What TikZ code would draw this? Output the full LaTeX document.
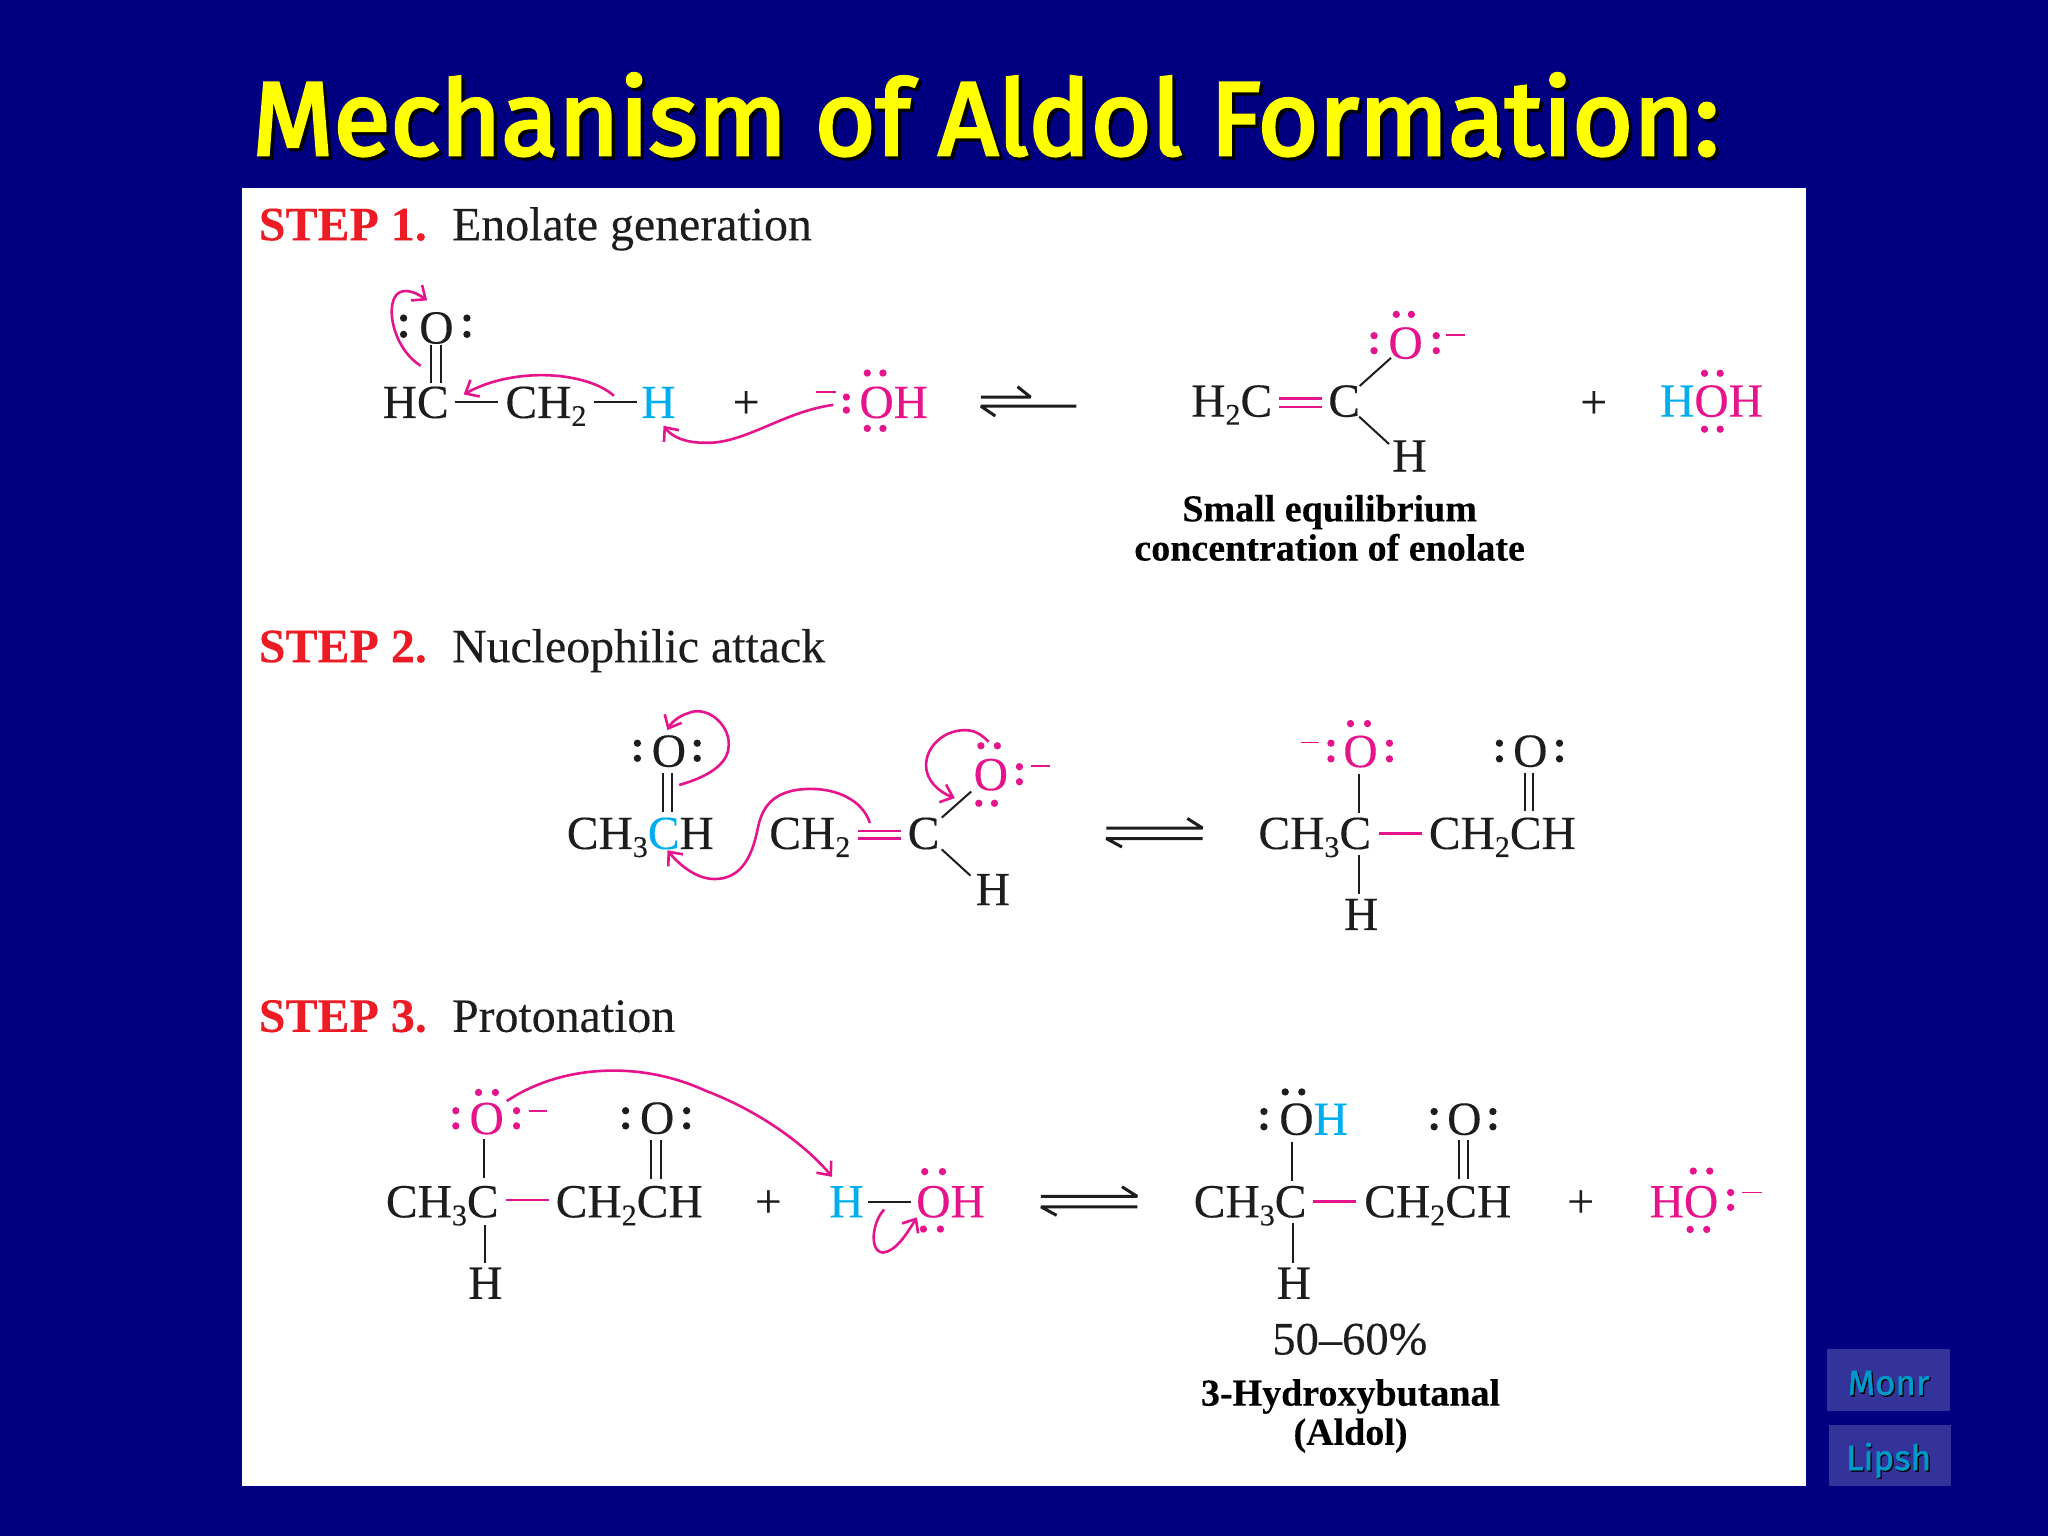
\documentclass[tikz,border=0pt]{standalone}
\usepackage{fontspec}
\usepackage{graphicx}
\usetikzlibrary{arrows.meta}
\setmainfont{Liberation Serif}[FakeBold=0.2]
\newfontfamily\comicf[FakeBold=3]{Fira Sans}
\newfontfamily\comicb[FakeBold=1.5]{Fira Sans}
\definecolor{navybg}{RGB}{0,0,128}
\definecolor{pinkc}{RGB}{230,20,140}
\definecolor{cyanc}{RGB}{0,174,239}
\definecolor{redc}{RGB}{237,28,36}
\definecolor{inkc}{RGB}{30,28,30}
\definecolor{btnc}{RGB}{51,51,153}
\definecolor{btnt}{RGB}{0,153,204}
\definecolor{ttl}{RGB}{255,255,0}
\newcommand\lowd[1]{\raisebox{-8pt}{\fontsize{30}{30}\selectfont #1}}
\newcommand\pk[1]{\textcolor{pinkc}{#1}}
\newcommand\cy[1]{\textcolor{cyanc}{#1}}
\newcommand\atomtxt[4]{\node[chem] (#1) at (#2,#3) {#4};}
\newcommand\dotsk[2]{\foreach \a/\b in {#2}{\fill[#1] (\a,\b) circle (2.8);}}
\tikzset{
  chem/.style={anchor=base west,inner sep=0pt,outer sep=0pt,yshift=-1.3pt,text=inkc,font=\fontsize{47.5}{47.5}\selectfont},
  steplab/.style={anchor=base west,inner sep=0pt,yshift=-1.3pt,text=redc,font=\bfseries\fontsize{48}{48}\selectfont},
  steptxt/.style={anchor=base west,inner sep=0pt,yshift=-1.3pt,text=inkc,font=\fontsize{47.8}{47.8}\selectfont},
  capt/.style={anchor=base,inner sep=0pt,yshift=-1.5pt,text=black,font=\bfseries\fontsize{38}{38}\selectfont},
  bond/.style={draw=inkc,line width=2pt},
  pbond/.style={draw=pinkc,line width=2.4pt},
  pmin/.style={draw=pinkc,line width=1.8pt},
  curved/.style={draw=pinkc,line width=2.6pt,-{Straight Barb[length=11pt,width=19pt,line width=2.6pt]}},
  eqa/.style={draw=inkc,line width=3pt,line join=bevel},
  ttltext/.style={anchor=base west,inner sep=0pt,font=\comicf\fontsize{100}{100}\selectfont},
  btn/.style={fill=btnc,draw=none},
  btntext/.style={anchor=base,inner sep=0pt,font=\comicb\fontsize{35}{35}\selectfont}
}
\begin{document}
\begin{tikzpicture}[x=1.30612pt,y=-1.30612pt]
\useasboundingbox (0,0) rectangle (1568,1176);
\fill[navybg] (0,0) rectangle (1568,1176);
\fill[white] (185,144) rectangle (1383,1138);
% title
\node[ttltext,text=black] (titleshadow) at (195.5,121) {\resizebox{1467pt}{!}{Mechanism of Aldol Formation:}};
\node[ttltext,text=ttl] (title) at (193,118.5) {\resizebox{1467pt}{!}{Mechanism of Aldol Formation:}};
% buttons
\fill[btn] (1399,1033) rectangle (1493,1080);
\fill[btn] (1400,1091) rectangle (1494,1138);
\node[btntext,text=black] (monrs) at (1447,1069) {Monr};
\node[btntext,text=btnt] (monr) at (1446,1068) {Monr};
\node[btntext,text=black] (lipshs) at (1447,1126.5) {Lipsh};
\node[btntext,text=btnt] (lipsh) at (1446,1125.5) {Lipsh};
% step labels
\node[steplab] (s1) at (198,183) {STEP 1.};
\node[steptxt] (s1t) at (346,183) {Enolate generation};
\node[steplab] (s2) at (198,506) {STEP 2.};
\node[steptxt] (s2t) at (346,506) {Nucleophilic attack};
\node[steplab] (s3) at (198,789) {STEP 3.};
\node[steptxt] (s3t) at (346,789) {Protonation};
%% ---------- step 1 left
\atomtxt{a1}{321}{262}{O}
\dotsk{inkc}{309/243.5,309/256,357.5/243.5,357.5/256}
\draw[bond] (329.7,264)--(329.7,293) (337.7,264)--(337.7,293);
\atomtxt{a2}{293}{319}{HC}
\draw[bond] (348,308)--(381,308);
\atomtxt{a3}{387}{319}{CH\lowd{2}}
\draw[bond] (455,308)--(488,308);
\atomtxt{a4}{491}{319}{\cy{H}}
\atomtxt{a5}{561}{319}{+}
\draw[pmin] (625,300)--(640,300);
\dotsk{pinkc}{648/304,648/314,664/285.6,676/285.6,664/328,676/328}
\atomtxt{a6}{658}{319}{\pk{OH}}
\draw[curved] (322,280) .. controls (303,268) and (296,240) .. (302,228) .. controls (306,220) and (316,222) .. (327,230);
\draw[curved] (470,303) .. controls (450,285) and (395,280) .. (355,302);
\draw[curved] (638,310) .. controls (600,315) and (570,340) .. (540,339) .. controls (525,339) and (515,335) .. (508,326);
% eq 1
\draw[eqa] (751,304)--(789,304)--(779,296);
\draw[eqa] (824,311)--(751,311)--(762,318.5);
%% ---------- step 1 right
\atomtxt{b1}{912}{318}{H\lowd{2}C}
\draw[pbond] (979,305)--(1012,305) (979,311.5)--(1012,311.5);
\atomtxt{b2}{1017}{318}{C}
\draw[bond] (1041,295.5)--(1065,274);
\draw[bond] (1040.6,319)--(1063.5,340);
\atomtxt{b3}{1066}{360}{H}
\atomtxt{b4}{1063}{273.6}{\pk{O}}
\dotsk{pinkc}{1052/257,1052/268.5,1099.6/257,1099.6/268.5,1069/240.7,1080.6/240.7}
\draw[pmin] (1107,256.6)--(1122,256.6);
\atomtxt{b5}{1210}{319}{+}
\atomtxt{b6}{1271}{318}{\cy{H}\pk{OH}}
\dotsk{pinkc}{1305/285.8,1317/285.8,1305/328.6,1317/328.6}
\node[capt] (c1) at (1018,398) {Small equilibrium};
\node[capt] (c2) at (1018,428) {concentration of enolate};
%% ---------- step 2 left
\atomtxt{d1}{499}{586}{O}
\dotsk{inkc}{488/569,488/580.6,533.8/569,533.8/580.6}
\draw[bond] (507.9,592)--(507.9,622) (514.4,592)--(514.4,622);
\atomtxt{d2}{434}{649}{CH\lowd{3}\cy{C}H}
\atomtxt{d3}{589}{649}{CH\lowd{2}}
\draw[pbond] (657,636)--(690,636) (657,642)--(690,642);
\atomtxt{d4}{695}{649}{C}
\draw[bond] (721,626)--(743.6,606);
\draw[bond] (721,650.3)--(743,670.4);
\atomtxt{d5}{747}{692}{H}
\atomtxt{d6}{745.5}{604}{\pk{O}}
\dotsk{pinkc}{751/571,763.6/571,749.4/615,761.4/615,780.5/587,780.5/598.5}
\draw[pmin] (789.6,586.5)--(804,586.5);
\draw[curved] (520,601) .. controls (548,593) and (558,582) .. (558,570) .. controls (558,553) and (540,540) .. (527,546) .. controls (520,548) and (514,553) .. (511,559);
\draw[curved] (666,630) .. controls (660,612) and (640,604) .. (621,604) .. controls (590,604) and (583,620) .. (580,635) .. controls (575,660) and (565,673) .. (547,673) .. controls (533,673) and (520,662) .. (511,651);
\draw[curved] (757,568) .. controls (750,561) and (745,559) .. (739,559) .. controls (722,559) and (709,572) .. (709,586) .. controls (709,597) and (718,606) .. (731,611);
% eq 2
\draw[eqa] (847,634)--(920.7,634)--(909,626.6);
\draw[eqa] (920.7,642)--(847,642)--(859,648.5);
%% ---------- step 2 right
\atomtxt{e1}{1028.5}{586.3}{\pk{O}}
\dotsk{pinkc}{1034/554,1047/554,1019/569,1019/581,1063.8/569,1063.8/581}
\draw[pmin] (996,568.4)--(1009.7,568.4);
\draw[bond] (1040.3,592.7)--(1040.3,622.8);
\atomtxt{e2}{963.5}{649}{CH\lowd{3}C}
\draw[pbond] (1056,638)--(1089,638);
\atomtxt{e3}{1094}{649}{CH\lowd{2}CH}
\draw[bond] (1040.3,654.7)--(1040.3,684.5);
\atomtxt{e4}{1029}{711}{H}
\atomtxt{e5}{1158.5}{586}{O}
\dotsk{inkc}{1148/569,1148/581,1194/569,1194/581}
\draw[bond] (1167.6,591.6)--(1167.6,621) (1174,591.6)--(1174,621);
%% ---------- step 3 left
\atomtxt{f1}{359.5}{867.3}{\pk{O}}
\dotsk{pinkc}{366.4/836.4,379.3/836.4,349/850.4,349/862,395.5/850.4,395.5/862}
\draw[pmin] (405,850.4)--(419,850.4);
\draw[bond] (370.6,872.4)--(370.6,902);
\atomtxt{f2}{295.5}{931}{CH\lowd{3}C}
\draw[pbond] (387.4,918.8)--(420.3,918.8);
\atomtxt{f3}{425.5}{931}{CH\lowd{2}CH}
\atomtxt{f4}{490}{867}{O}
\dotsk{inkc}{479/850.4,479/862,525.7/850.4,525.7/862}
\draw[bond] (498.6,873)--(498.6,902.8) (505.7,873)--(505.7,902.8);
\draw[bond] (371.6,938)--(371.6,966.8);
\atomtxt{f5}{358.5}{993.4}{H}
\atomtxt{f6}{578}{931}{+}
\atomtxt{f7}{635}{931}{\cy{H}}
\draw[bond] (664.6,920)--(697.5,920);
\atomtxt{f8}{701.5}{931}{\pk{OH}}
\dotsk{pinkc}{708/897,721.6/897,707/941,720/941}
\draw[curved] (388,843) .. controls (430,815) and (490,812) .. (540,835) .. controls (585,852) and (620,880) .. (637,901);
\draw[curved] (677,926) .. controls (668,935) and (665,958) .. (676,959) .. controls (686,958) and (694,945) .. (702,932);
% eq 3
\draw[eqa] (797,916)--(870.7,916)--(859,908.6);
\draw[eqa] (870.7,924)--(797,924)--(809,930.5);
%% ---------- step 3 right
\atomtxt{g1}{979.5}{867.8}{O\cy{H}}
\dotsk{inkc}{984/836,996.7/836,967.7/851,967.7/862.7}
\draw[bond] (989,874)--(989,904);
\atomtxt{g2}{914}{931}{CH\lowd{3}C}
\draw[pbond] (1005,920)--(1038,920);
\atomtxt{g3}{1044.5}{931}{CH\lowd{2}CH}
\atomtxt{g4}{1108}{867.8}{O}
\dotsk{inkc}{1098/851,1098/862.7,1143/851,1143/862.7}
\draw[bond] (1117,873)--(1117,903) (1123.6,873)--(1123.6,903);
\draw[bond] (989.8,936.7)--(989.8,966.8);
\atomtxt{g5}{977.5}{993.4}{H}
\atomtxt{g6}{1200}{931}{+}
\atomtxt{g7}{1263}{931}{\pk{HO}}
\dotsk{pinkc}{1296.4/896.6,1309/896.6,1294/941.3,1306.7/941.3,1325/913,1325/924.4}
\draw[pmin] (1334,913)--(1349,913);
\node[anchor=base west,inner sep=0pt,yshift=-1.3pt,text=inkc,font=\fontsize{46.5}{46.5}\selectfont] (g8) at (974,1036) {50–60\%};
\node[capt] (c3) at (1034,1075) {3-Hydroxybutanal};
\node[capt] (c4) at (1034,1105) {(Aldol)};
\end{tikzpicture}
\end{document}
